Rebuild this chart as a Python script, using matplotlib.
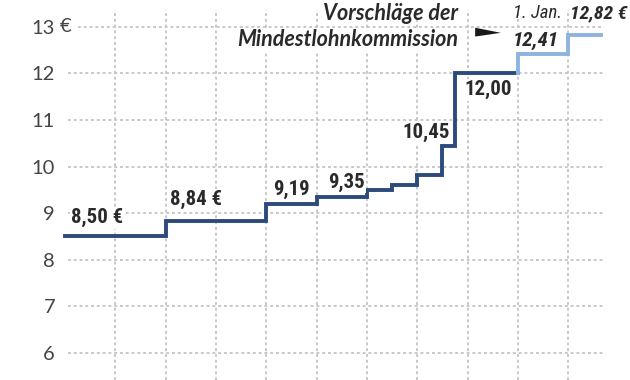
import matplotlib
matplotlib.use("Agg")
import matplotlib.pyplot as plt
from matplotlib.patches import Polygon
from matplotlib import font_manager as fm

# ---- data ----
dark_dates = [2015.0, 2017.0, 2019.0, 2020.0, 2021.0, 2021.5, 2022.0, 2022.5, 2022.75, 2024.0]
dark_values = [8.50, 8.84, 9.19, 9.35, 9.50, 9.60, 9.82, 10.45, 12.00, 12.00]
light_dates = [2024.0, 2024.0, 2025.0, 2025.65]
light_values = [12.00, 12.41, 12.82, 12.82]
y_ticks = [6, 7, 8, 9, 10, 11, 12, 13]
y_tick_labels = ["6", "7", "8", "9", "10", "11", "12", "13"]
year_lines = [2016, 2017, 2018, 2019, 2020, 2021, 2022, 2023, 2024, 2025]

DARK = "#2c4a7c"
LIGHT = "#8db3df"
GRID = "#c4c4c4"
TXT = "#2a2a2a"
FONT = "Lato"
names = {f.name for f in fm.fontManager.ttflist}
COND = next((n for n in ["Roboto Condensed", "Open Sans Condensed", "Liberation Sans Narrow"]
             if n in names), "Lato")
csize = 15 if COND != "Lato" else 12.5

fig = plt.figure(figsize=(6.3, 3.8), dpi=100)
ax = fig.add_axes([62 / 630, 0, 544 / 630, 370 / 380])
ax.set_xlim(2014.94, 2025.75)
ax.set_ylim(5.42, 13.36)
for s in ax.spines.values():
    s.set_visible(False)

# grid
for yv in y_ticks:
    x0 = 2015.26 if yv == 13 else 2015.06
    ax.plot([x0, 2025.72], [yv, yv], color=GRID, lw=1.3, ls=(0, (1.6, 1.6)), zorder=1)
for xv in year_lines:
    ax.axvline(xv, color=GRID, lw=1.3, ls=(0, (1.6, 1.6)), zorder=1)

# ticks
ax.set_xticks([])
ax.set_yticks(y_ticks)
ax.set_yticklabels(y_tick_labels, fontfamily=FONT, fontsize=14.5, color="#444444")
ax.tick_params(axis="y", length=0, pad=5)
ax.text(2015.0 - 0.10, 13, "€", fontfamily=FONT, fontsize=14.5, color="#444444",
        ha="left", va="center", clip_on=False)

# lines
ax.plot(dark_dates, dark_values, drawstyle="steps-post", color=DARK, lw=2.8,
        solid_joinstyle="miter", zorder=3)
ax.plot(light_dates, light_values, drawstyle="steps-post", color=LIGHT, lw=2.8,
        solid_joinstyle="miter", zorder=3)

box = dict(facecolor="white", edgecolor="none", pad=1)
lab = dict(fontfamily=COND, fontweight="heavy", fontsize=csize, color=TXT, va="center", bbox=box, zorder=4)
ax.text(2015.12, 8.90, "8,50 €", ha="left", **lab)
ax.text(2017.08, 9.29, "8,84 €", ha="left", **lab)
ax.text(2019.14, 9.50, "9,19", ha="left", **lab)
ax.text(2020.22, 9.67, "9,35", ha="left", **lab)
ax.text(2022.64, 10.73, "10,45", ha="right", **lab)
ax.text(2022.93, 11.65, "12,00", ha="left", **lab)

ital = dict(fontstyle="italic", color=TXT, va="center", zorder=4)
ax.text(2023.9, 12.70, "12,41", ha="left", fontfamily=COND, fontweight="heavy", fontsize=csize, bbox=box, **ital)
ax.text(2023.9, 13.29, "1. Jan.", ha="left", fontfamily=COND, fontweight="normal", fontsize=csize - 1.5, **ital)
ax.text(2025.04, 13.29, "12,82 €", ha="left", fontfamily=COND, fontweight="heavy", fontsize=csize - 1,
        clip_on=False, **ital)
ax.text(2022.81, 13.29, "Vorschläge der", ha="right", fontfamily=FONT, fontweight="bold", fontsize=15.5, **ital)
ax.text(2022.81, 12.72, "Mindestlohnkommission", ha="right", fontfamily=FONT, fontweight="bold", fontsize=15.5,
        bbox=box, **ital)

ax.add_patch(Polygon([[2023.15, 12.98], [2023.15, 12.79], [2023.66, 12.87]],
                     closed=True, facecolor="#1a1a1a", edgecolor="none", zorder=5))

fig.savefig("out.png", dpi=100)
